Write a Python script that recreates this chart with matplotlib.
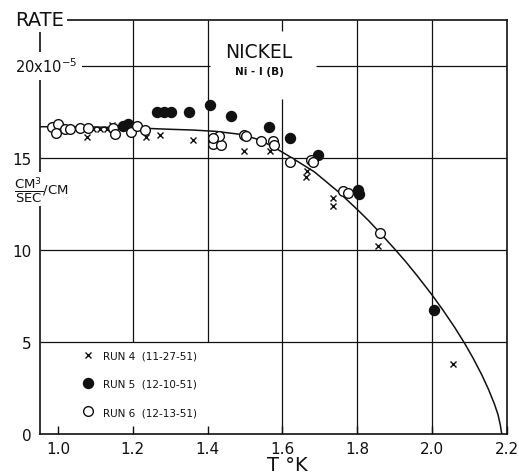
import matplotlib
matplotlib.use("Agg")
import matplotlib.pyplot as plt
from matplotlib.lines import Line2D

# fitted curve
curve_t = [0.952, 1.0, 1.1, 1.2, 1.3, 1.36, 1.42, 1.49, 1.54, 1.58, 1.62, 1.685,
           1.75, 1.80, 1.83, 1.86, 1.90, 1.93, 1.96, 2.0, 2.03, 2.06, 2.087,
           2.11, 2.133, 2.15, 2.166, 2.176, 2.182, 2.186]
curve_r = [16.7, 16.7, 16.68, 16.64, 16.56, 16.52, 16.45, 16.28, 15.98, 15.55, 15.07, 14.25,
           13.15, 12.2, 11.6, 10.95, 10.05, 9.35, 8.6, 7.55, 6.7, 5.8, 4.92,
           4.1, 3.2, 2.45, 1.65, 1.05, 0.5, 0.0]

# run 4 (11-27-51), crosses
run4_t = [1.078, 1.094, 1.112, 1.13, 1.144, 1.234, 1.272, 1.361, 1.497, 1.566,
          1.665, 1.663, 1.735, 1.735, 1.854, 2.055]
run4_r = [16.12, 16.6, 16.6, 16.6, 16.82, 16.15, 16.26, 15.99, 15.38, 15.38,
          14.3, 13.95, 12.8, 12.4, 10.24, 3.83]

# run 5 (12-10-51), filled circles
run5_t = [1.175, 1.187, 1.265, 1.283, 1.301, 1.35, 1.406, 1.462, 1.565, 1.621,
          1.695, 1.802, 1.804, 2.005]
run5_r = [16.75, 16.85, 17.52, 17.52, 17.49, 17.5, 17.9, 17.29, 16.7, 16.11,
          15.14, 13.28, 13.05, 6.72]

# run 6 (12-13-51), open circles
run6_t = [0.984, 1.0, 0.996, 1.019, 1.032, 1.059, 1.081, 1.148, 1.153, 1.196,
          1.211, 1.232, 1.413, 1.437, 1.430, 1.413, 1.497, 1.502, 1.542, 1.575,
          1.578, 1.621, 1.676, 1.681, 1.762, 1.775, 1.86]
run6_r = [16.7, 16.85, 16.35, 16.55, 16.6, 16.65, 16.65, 16.64, 16.3, 16.4,
          16.75, 16.5, 15.77, 15.72, 16.17, 16.08, 16.26, 16.17, 15.9, 15.9,
          15.72, 14.8, 14.9, 14.76, 13.19, 13.1, 10.93]

x_ticks = [1.0, 1.2, 1.4, 1.6, 1.8, 2.0, 2.2]
x_labels = ["1.0", "1.2", "1.4", "1.6", "1.8", "2.0", "2.2"]
y_ticks = [0, 5, 10, 15]
y_labels = ["0", "5", "10", "15"]

ink = "#111111"
x0, x1 = 0.952, 2.2
y0, y1 = 0.0, 22.5

fig = plt.figure(figsize=(5.19, 4.77), dpi=100)
ax = fig.add_axes([40 / 519, 42 / 477, 467 / 519, 414 / 477])
ax.set_xlim(x0, x1)
ax.set_ylim(y0, y1)

for s in ax.spines.values():
    s.set_color(ink)
    s.set_linewidth(1.2)

# grid, with the blank areas behind the title and legend
gkw = dict(colors=ink, linewidth=0.9, zorder=1)
ax.vlines([1.2, 1.4], 5, y1, **gkw)
ax.vlines([1.8, 2.0], y0, y1, **gkw)
ax.vlines(1.6, y0, 18.2, **gkw)
ax.vlines(1.6, 21.9, y1, **gkw)
ax.hlines([5, 10, 15], x0, x1, **gkw)
ax.hlines(20, x0, 1.405, **gkw)
ax.hlines(20, 1.69, x1, **gkw)

ax.plot(curve_t, curve_r, color=ink, lw=1.1, zorder=2)
ax.plot(run4_t, run4_r, ls="none", marker="x", ms=4.5, mew=1.0, color=ink, zorder=3)
ax.plot(run5_t, run5_r, ls="none", marker="o", ms=7.2, color=ink, zorder=3)
ax.plot(run6_t, run6_r, ls="none", marker="o", ms=7.0, mfc="white", mec=ink,
        mew=1.0, zorder=4)

ax.set_xticks(x_ticks)
ax.set_xticklabels(x_labels)
ax.set_yticks(y_ticks)
ax.set_yticklabels(y_labels)
ax.tick_params(axis="x", direction="in", length=6, width=1, pad=5,
               labelsize=11, colors=ink)
ax.tick_params(axis="y", length=0, pad=6, labelsize=11, colors=ink)

wbox = dict(boxstyle="square,pad=0.15", fc="white", ec="none")
ax.text(-0.054, 1.0, "RATE", transform=ax.transAxes, ha="left", va="center",
        fontsize=14, color=ink, bbox=wbox, zorder=6, clip_on=False)
ax.text(-0.054, 20, "20x10$^{-5}$", transform=ax.get_yaxis_transform(),
        ha="left", va="center", fontsize=10.5, color=ink,
        bbox=dict(boxstyle="square,pad=0.35", fc="white", ec="none"),
        zorder=6, clip_on=False)
ax.text(-0.056, 13.3, r"$\dfrac{\mathrm{CM}^{3}}{\mathrm{SEC}}$/CM",
        transform=ax.get_yaxis_transform(), ha="left", va="center",
        fontsize=9.5, color=ink, bbox=wbox, zorder=6, clip_on=False)

ax.text(0.469, 0.925, "NICKEL", transform=ax.transAxes, ha="center",
        va="center", fontsize=13.5, color=ink)
ax.text(0.469, 0.877, "Ni - I (B)", transform=ax.transAxes, ha="center",
        va="center", fontsize=7.5, fontweight="bold", color=ink)

ax.text(0.529, -0.074, "T °K", transform=ax.transAxes, ha="center",
        va="center", fontsize=14, color=ink, clip_on=False)

handles = [
    Line2D([], [], ls="none", marker="x", ms=4.5, mew=1.0, color=ink),
    Line2D([], [], ls="none", marker="o", ms=7.2, color=ink),
    Line2D([], [], ls="none", marker="o", ms=7.0, mfc="white", mec=ink, mew=1.0),
]
labels = ["RUN 4  (11-27-51)", "RUN 5  (12-10-51)", "RUN 6  (12-13-51)"]
ax.legend(handles, labels, loc="upper left", bbox_to_anchor=(0.0917, 0.2015),
          frameon=False, handlelength=1.0, handletextpad=0.9, labelspacing=1.75,
          borderpad=0, borderaxespad=0, fontsize=7.5, labelcolor=ink)

fig.savefig("out.png", dpi=100, facecolor="white")
